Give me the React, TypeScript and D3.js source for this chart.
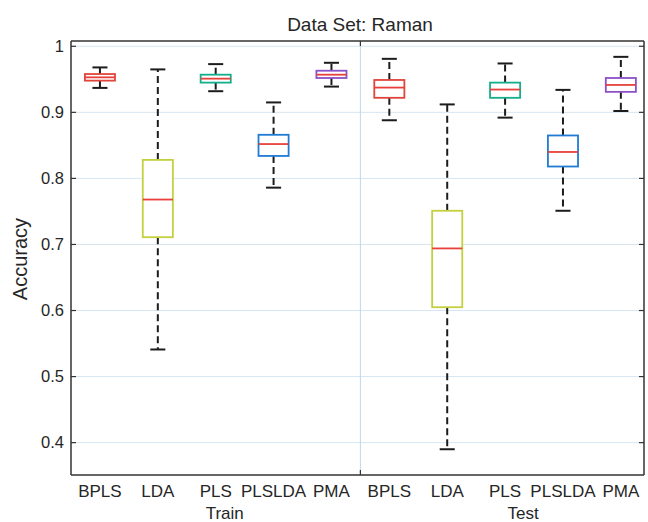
import React from "react";
import * as d3 from "d3";

const categories = ["BPLS", "LDA", "PLS", "PLSLDA", "PMA", "BPLS", "LDA", "PLS", "PLSLDA", "PMA"];
const groups = ["Train", "Test"];
const lowerWhisker = [0.937, 0.541, 0.932, 0.786, 0.939, 0.888, 0.390, 0.892, 0.751, 0.902];
const q1 = [0.948, 0.711, 0.945, 0.834, 0.952, 0.922, 0.605, 0.922, 0.818, 0.931];
const medians = [0.953, 0.768, 0.951, 0.852, 0.957, 0.9375, 0.694, 0.9345, 0.840, 0.9415];
const q3 = [0.958, 0.828, 0.957, 0.866, 0.963, 0.949, 0.751, 0.945, 0.865, 0.952];
const upperWhisker = [0.968, 0.965, 0.973, 0.915, 0.975, 0.981, 0.912, 0.974, 0.934, 0.984];
const yTicks = [0.4, 0.5, 0.6, 0.7, 0.8, 0.9, 1];
const boxColors = ["#e0453c", "#c3d13f", "#16ad8c", "#1f7bd4", "#8b52c8"];

const W = 648;
const H = 522;
const L = 71, R = 644, T = 41, B = 475;

export default function App() {
  const x = d3.scaleLinear().domain([0.5, 10.4]).range([L, R]);
  const y = d3.scaleLinear().domain([0.351, 1.008]).range([B, T]);
  const bw = 0.26;
  const cw = 0.13;
  const font = "'Liberation Sans', Arial, sans-serif";
  const txt = "#262626";
  const axis = "#333333";
  const divider = x(5.5);

  return (
    <svg width={W} height={H} style={{ position: "absolute", left: 0, top: 0, background: "#fff" }}>
      <rect x={0} y={0} width={W} height={H} fill="#fff" />
      {/* grid */}
      {yTicks.map((t) => (
        <line key={"g" + t} x1={L} x2={R} y1={y(t)} y2={y(t)} stroke="#d6e6f2" strokeWidth={1} />
      ))}
      <line x1={divider} x2={divider} y1={T} y2={B} stroke="#bcd8ec" strokeWidth={1} />
      {/* boxes */}
      {categories.map((c, i) => {
        const p = i + 1;
        const col = boxColors[i % 5];
        return (
          <g key={"b" + i}>
            <line x1={x(p)} x2={x(p)} y1={y(q3[i])} y2={y(upperWhisker[i])} stroke="#1c1c1c" strokeWidth={2} strokeDasharray="7,4" />
            <line x1={x(p)} x2={x(p)} y1={y(q1[i])} y2={y(lowerWhisker[i])} stroke="#1c1c1c" strokeWidth={2} strokeDasharray="7,4" />
            <line x1={x(p - cw)} x2={x(p + cw)} y1={y(upperWhisker[i])} y2={y(upperWhisker[i])} stroke="#1c1c1c" strokeWidth={2} />
            <line x1={x(p - cw)} x2={x(p + cw)} y1={y(lowerWhisker[i])} y2={y(lowerWhisker[i])} stroke="#1c1c1c" strokeWidth={2} />
            <rect x={x(p - bw)} y={y(q3[i])} width={x(p + bw) - x(p - bw)} height={y(q1[i]) - y(q3[i])} fill="#fff" stroke={col} strokeWidth={1.8} />
            <line x1={x(p - bw)} x2={x(p + bw)} y1={y(medians[i])} y2={y(medians[i])} stroke="#e8403a" strokeWidth={1.8} />
          </g>
        );
      })}
      {/* axes frame */}
      <line x1={L} x2={R} y1={T} y2={T} stroke={axis} strokeWidth={1.5} />
      <line x1={L} x2={R} y1={B} y2={B} stroke={axis} strokeWidth={1.5} />
      <line x1={L} x2={L} y1={T} y2={B} stroke={axis} strokeWidth={1.5} />
      <line x1={R} x2={R} y1={T} y2={B} stroke={axis} strokeWidth={1.5} />
      {yTicks.map((t) => (
        <g key={"t" + t}>
          <line x1={L} x2={L + 5} y1={y(t)} y2={y(t)} stroke={axis} strokeWidth={1.2} />
          <line x1={R - 5} x2={R} y1={y(t)} y2={y(t)} stroke={axis} strokeWidth={1.2} />
          <text x={L - 7} y={y(t)} dy="0.35em" textAnchor="end" fontFamily={font} fontSize={16.5} fill={txt}>
            {t === 1 ? "1" : t.toFixed(1)}
          </text>
        </g>
      ))}
      <line x1={divider} x2={divider} y1={B} y2={B - 5} stroke={axis} strokeWidth={1.2} />
      <line x1={divider} x2={divider} y1={T} y2={T + 5} stroke={axis} strokeWidth={1.2} />
      {/* x labels */}
      {categories.map((c, i) => (
        <text key={"x" + i} x={x(i + 1)} y={497} textAnchor="middle" fontFamily={font} fontSize={17} fill={txt}>
          {c}
        </text>
      ))}
      <text x={x(3) + 9} y={519} textAnchor="middle" fontFamily={font} fontSize={17} fill={txt}>{groups[0]}</text>
      <text x={x(8) + 18} y={519} textAnchor="middle" fontFamily={font} fontSize={17} fill={txt}>{groups[1]}</text>
      {/* title */}
      <text x={360} y={31} textAnchor="middle" fontFamily={font} fontSize={19} fill={txt}>Data Set: Raman</text>
      {/* y label */}
      <text transform={`translate(27, 259) rotate(-90)`} textAnchor="middle" fontFamily={font} fontSize={20} fill={txt}>Accuracy</text>
    </svg>
  );
}
